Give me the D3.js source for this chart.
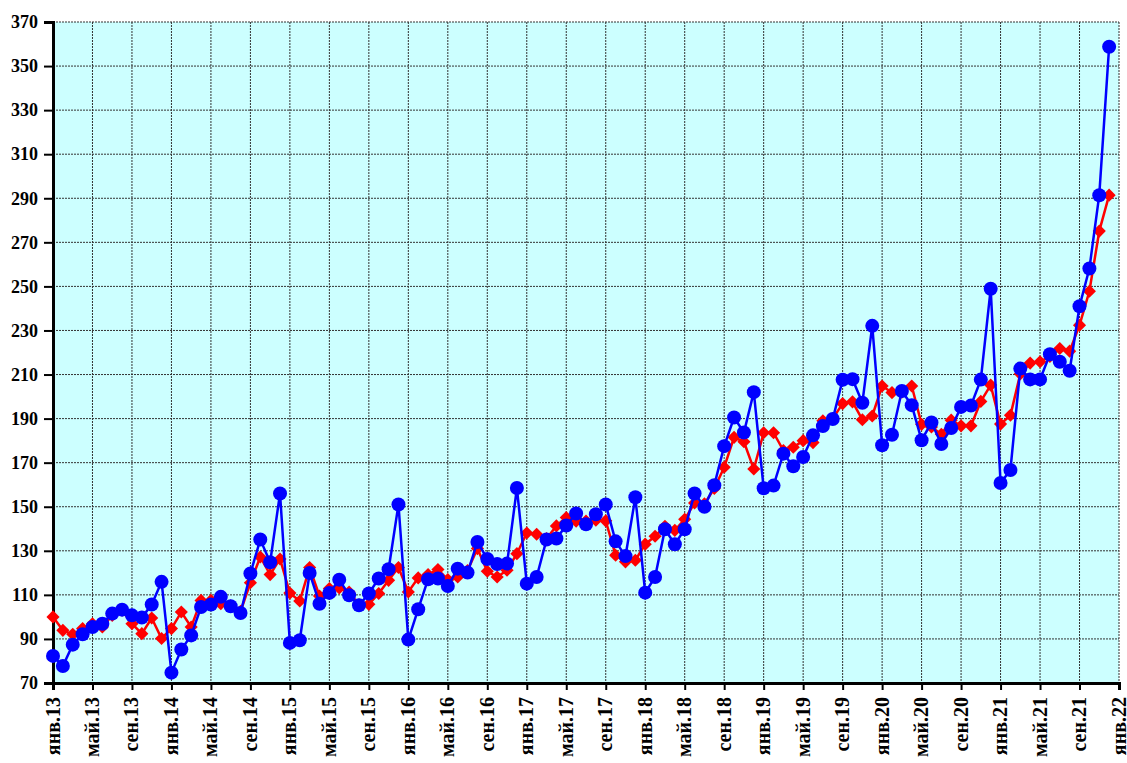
<!DOCTYPE html>
<html><head><meta charset="utf-8">
<script src="https://cdn.jsdelivr.net/npm/d3@7"></script>
<style>body{margin:0;background:#fff}svg{display:block}</style>
</head><body>
<svg id="c" width="1127" height="763"></svg>
<script>
const tickLabels = ["янв.13","май.13","сен.13","янв.14","май.14","сен.14","янв.15","май.15","сен.15","янв.16","май.16","сен.16","янв.17","май.17","сен.17","янв.18","май.18","сен.18","янв.19","май.19","сен.19","янв.20","май.20","сен.20","янв.21","май.21","сен.21","янв.22"];
const yTicks = [70,90,110,130,150,170,190,210,230,250,270,290,310,330,350,370];
const blueSeries = [
 82.3,77.7,87.4,92.1,95.4,96.9,101.5,103.3,100.7,99.7,105.6,115.9,
 74.7,85.2,91.6,104.5,105.6,109.1,104.8,101.8,119.7,135.1,124.8,156,
 88.2,89.4,119.9,106,110.9,116.9,109.8,105.3,110.6,117.4,121.6,151,
 89.7,103.5,117.1,117.4,114,121.9,120.1,134,126.3,124,124.2,158.5,
 115.1,118.1,135.1,135.6,141.5,146.9,142,146.6,151,134.3,127.6,154.3,
 111,118.1,139.8,133,139.8,156,150,159.8,177.5,190.5,183.7,202,
 158.4,159.6,174.1,168.4,172.6,182.4,186.6,189.8,207.6,207.9,197.2,232.1,
 177.9,182.7,202.5,196.1,180.2,188.2,178.5,185.7,195.3,195.9,207.7,248.9,
 160.8,166.7,212.7,207.8,207.8,219.2,215.8,211.7,241,258.1,291.4,358.8];
const redSeries = [
 100,93.9,92.1,94.7,96.9,95.4,100.7,103,96.9,92.4,99.5,90.2,
 94.7,102.2,95.4,107.5,107.5,106,105,102.5,115.5,127.2,119.2,126.3,
 110.8,107.2,122.4,109.5,112.9,113.1,111.3,105.5,105.7,110.6,116.6,122.4,
 111.3,117.7,119.2,121.5,116.9,118.1,121,131,120.7,118.1,121.2,128.7,
 138.1,137.5,135.5,141.3,145.1,143.4,143.5,143.9,143.6,128,125,125.7,
 133,136.6,141.1,139.3,144.3,151.7,151.3,158.3,167.9,181.5,179.5,167.1,
 183.6,183.6,175.5,177,180,179.1,189,190,196.8,197.6,189.5,191.2,
 204.8,201.8,202,204.8,187.4,186.2,182.9,189.3,186.7,186.7,197.8,205.2,
 187.5,191.5,210.3,215.2,215.8,218.2,221.8,220.6,232.4,247.8,275.1,291.4];

const L=53, R=1119, T=22, B=683;
const svg = d3.select("#c");
const x = d3.scaleLinear().domain([0,108]).range([L,R]);
const y = d3.scaleLinear().domain([70,370]).range([B,T]);
const font = "'Liberation Serif','Times New Roman',serif";

svg.append("rect").attr("x",L).attr("y",T).attr("width",R-L).attr("height",B-T).attr("fill","#CCFFFF");

const tickIdx = tickLabels.map((d,i)=>i*4);
// grid
svg.append("g").selectAll("line").data(yTicks.slice(1)).join("line")
  .attr("x1",L).attr("x2",R).attr("y1",d=>y(d)).attr("y2",d=>y(d))
  .attr("stroke","#333").attr("stroke-width",1).attr("stroke-dasharray","2,1");
svg.append("g").selectAll("line").data(tickIdx.slice(1)).join("line")
  .attr("x1",d=>x(d)).attr("x2",d=>x(d)).attr("y1",T).attr("y2",B)
  .attr("stroke","#333").attr("stroke-width",1).attr("stroke-dasharray","2,1");

// axes
const yAxis = d3.axisLeft(y).tickValues(yTicks).tickSize(9).tickPadding(6).tickFormat(d3.format("d"));
const gy = svg.append("g").attr("transform",`translate(${L},0)`).call(yAxis);
gy.select(".domain").attr("stroke","#000").attr("stroke-width",3);
gy.selectAll(".tick line").attr("stroke","#000").attr("stroke-width",2);
gy.selectAll("text").attr("font-family",font).attr("font-weight","bold").attr("font-size",18).attr("fill","#000");

const xAxis = d3.axisBottom(x).tickValues(tickIdx).tickSize(7).tickFormat((d,i)=>tickLabels[i]);
const gx = svg.append("g").attr("transform",`translate(0,${B})`).call(xAxis);
gx.select(".domain").attr("stroke","#000").attr("stroke-width",3);
gx.selectAll(".tick line").attr("stroke","#000").attr("stroke-width",2);
gx.selectAll("text").attr("font-family",font).attr("font-weight","bold").attr("font-size",20).attr("fill","#000")
  .attr("transform","rotate(-90)").attr("text-anchor","end").attr("x",-14).attr("y",-1).attr("dy","0.35em");

const line = d3.line().x((d,i)=>x(i)).y(d=>y(d));
// red series
svg.append("path").datum(redSeries).attr("d",line).attr("fill","none").attr("stroke","#FF0000").attr("stroke-width",2.5);
const dia = d3.symbol().type(d3.symbolDiamond2).size(110);
svg.append("g").selectAll("path").data(redSeries).join("path")
  .attr("d",dia).attr("transform",(d,i)=>`translate(${x(i)},${y(d)})`).attr("fill","#FF0000");
// blue series
svg.append("path").datum(blueSeries).attr("d",line).attr("fill","none").attr("stroke","#0000FF").attr("stroke-width",2.5);
svg.append("g").selectAll("circle").data(blueSeries).join("circle")
  .attr("cx",(d,i)=>x(i)).attr("cy",d=>y(d)).attr("r",7).attr("fill","#0000FF");
</script>
</body></html>
